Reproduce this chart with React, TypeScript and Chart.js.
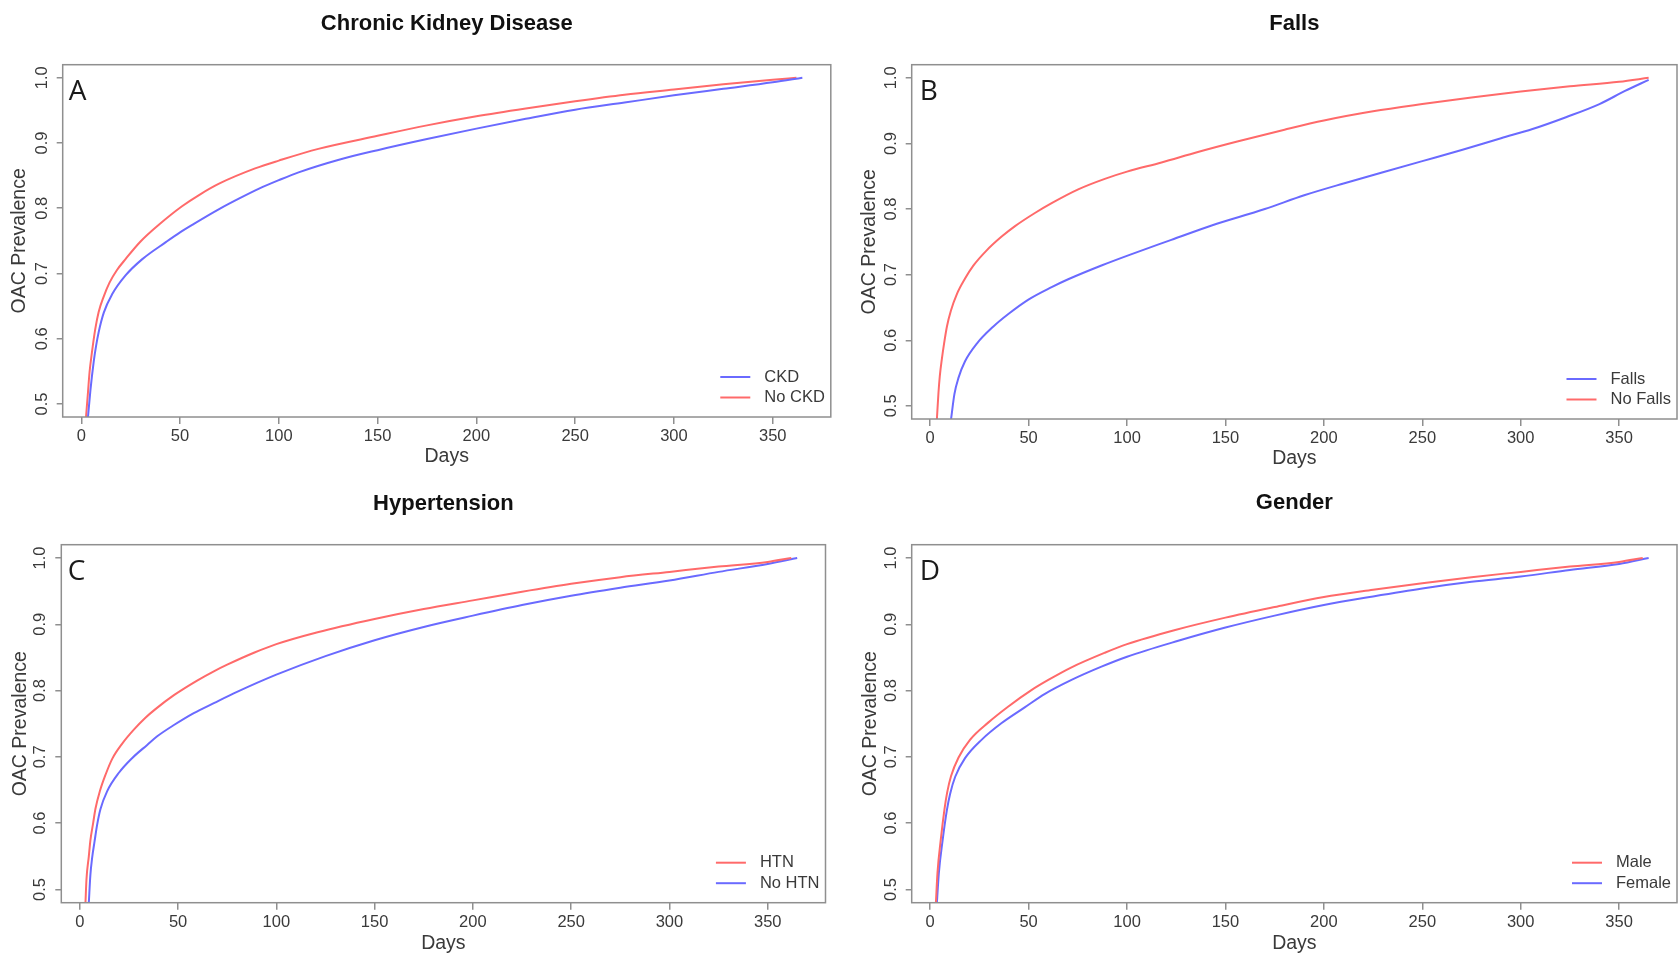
import React, { useEffect, useRef } from "react";
import { Chart, registerables } from "chart.js";

Chart.register(...registerables);

const FONT = '"Liberation Sans", Arial, Helvetica, sans-serif';
Chart.defaults.font.family = FONT;

// ---------- axes ----------
const X_TICKS = [0, 50, 100, 150, 200, 250, 300, 350];
const Y_TICKS = [0.5, 0.6, 0.7, 0.8, 0.9, 1.0];
const X_MIN = -9.4;
const X_MAX = 379.4;
const Y_MIN = 0.48;
const Y_MAX = 1.02;

// ---------- Panel A: Chronic Kidney Disease ----------
const CKD_DAYS = [3.4, 4.6, 6.3, 7.5, 8.8, 11.4, 15.6, 22.4, 30.9, 42.8, 50, 57, 70, 80, 90, 100, 110, 130, 150, 175, 200, 225, 250, 275, 300, 325, 350, 365];
const CKD_VALS = [0.48, 0.52, 0.565, 0.589, 0.61, 0.64, 0.668, 0.697, 0.722, 0.748, 0.763, 0.776, 0.799, 0.815, 0.83, 0.843, 0.855, 0.874, 0.889, 0.906, 0.922, 0.937, 0.951, 0.962, 0.973, 0.983, 0.993, 1.0];
const NO_CKD_DAYS = [2.4, 3.4, 4.2, 5.4, 7.1, 8.8, 11.4, 14.3, 18, 22.4, 30, 39.4, 51, 60, 70, 88, 100, 120, 150, 175, 200, 225, 250, 275, 300, 325, 350, 362];
const NO_CKD_VALS = [0.48, 0.518, 0.549, 0.579, 0.615, 0.641, 0.665, 0.686, 0.705, 0.722, 0.749, 0.775, 0.803, 0.821, 0.838, 0.861, 0.873, 0.891, 0.911, 0.927, 0.941, 0.953, 0.964, 0.974, 0.982, 0.99, 0.997, 1.0];

// ---------- Panel B: Falls ----------
const FALLS_DAYS = [10.6, 12.3, 14.4, 17.7, 23.7, 32.1, 39.7, 49.9, 61.7, 70.1, 87, 102, 122.5, 143, 170, 190, 210, 230, 250, 270, 290, 306, 323, 340, 353, 365];
const FALLS_VALS = [0.48, 0.518, 0.543, 0.568, 0.595, 0.621, 0.64, 0.662, 0.681, 0.693, 0.714, 0.731, 0.753, 0.775, 0.8, 0.821, 0.839, 0.856, 0.873, 0.89, 0.908, 0.922, 0.94, 0.96, 0.98, 0.997];
const NO_FALLS_DAYS = [3.4, 4.2, 4.9, 5.9, 7.1, 8.5, 10.5, 13.5, 17.7, 22, 28.7, 36.3, 43.1, 53.2, 61.7, 75.2, 88.7, 100, 117.5, 136, 156, 180, 200, 225, 250, 275, 300, 325, 350, 365];
const NO_FALLS_VALS = [0.48, 0.52, 0.546, 0.571, 0.596, 0.621, 0.645, 0.67, 0.694, 0.714, 0.737, 0.758, 0.774, 0.794, 0.809, 0.83, 0.846, 0.857, 0.871, 0.887, 0.903, 0.921, 0.935, 0.949, 0.96, 0.97, 0.979, 0.987, 0.994, 1.0];

// ---------- Panel C: Hypertension ----------
const HTN_DAYS = [2.9, 3.4, 4.6, 5.4, 6.8, 8, 10.2, 13.1, 16.5, 21.6, 27.5, 33.4, 38.5, 47.9, 59.7, 68.2, 75, 88.6, 100, 121, 150, 175, 200, 225, 250, 275, 300, 325, 350, 362];
const HTN_VALS = [0.48, 0.515, 0.55, 0.574, 0.6, 0.622, 0.648, 0.673, 0.697, 0.72, 0.741, 0.759, 0.772, 0.793, 0.815, 0.829, 0.839, 0.857, 0.87, 0.888, 0.908, 0.923, 0.936, 0.949, 0.961, 0.971, 0.979, 0.987, 0.994, 1.0];
const NO_HTN_DAYS = [4.6, 5.4, 6.3, 7.5, 8.8, 10.5, 13.9, 19.9, 26.6, 34.3, 39.4, 47.9, 58, 68.2, 80, 100, 125, 150, 175, 200, 225, 250, 275, 300, 325, 350, 365];
const NO_HTN_VALS = [0.48, 0.522, 0.548, 0.572, 0.597, 0.621, 0.648, 0.676, 0.698, 0.718, 0.731, 0.748, 0.766, 0.781, 0.798, 0.824, 0.852, 0.876, 0.896, 0.913, 0.929, 0.943, 0.955, 0.966, 0.979, 0.991, 1.0];

// ---------- Panel D: Gender ----------
const MALE_DAYS = [2.9, 3.7, 5.4, 7.3, 8.6, 10.6, 14.4, 20.3, 29.6, 39.7, 51.6, 60, 71.8, 88.7, 100, 124, 150, 175, 200, 225, 250, 275, 300, 325, 350, 362];
const MALE_VALS = [0.48, 0.525, 0.576, 0.622, 0.646, 0.671, 0.699, 0.726, 0.752, 0.776, 0.801, 0.816, 0.835, 0.857, 0.87, 0.891, 0.91, 0.926, 0.941, 0.952, 0.962, 0.971, 0.979, 0.987, 0.994, 1.0];
const FEMALE_DAYS = [3.4, 4.4, 6.3, 8.5, 10.1, 12.7, 17.7, 26.2, 36.3, 48.2, 58.3, 71.8, 87, 100, 126, 150, 175, 200, 225, 250, 275, 300, 325, 350, 365];
const FEMALE_VALS = [0.48, 0.525, 0.574, 0.62, 0.644, 0.67, 0.698, 0.726, 0.751, 0.775, 0.795, 0.816, 0.836, 0.851, 0.875, 0.895, 0.913, 0.929, 0.942, 0.954, 0.964, 0.972, 0.982, 0.991, 1.0];

const RED = "#ff6a6a";
const BLUE = "#6a6aff";

type Series = { label: string; days: number[]; vals: number[]; color: string };
type Layout = {
  qx: number; qy: number;
  left: number; top: number; right: number; bottom: number;
  titleY: number; yTitleX: number; daysY: number; letterDx: number;
};
type PanelCfg = { title: string; letter: string; series: Series[]; layout: Layout };

const PANELS: PanelCfg[] = [
  {
    title: "Chronic Kidney Disease",
    letter: "A",
    series: [
      { label: "CKD", days: CKD_DAYS, vals: CKD_VALS, color: BLUE },
      { label: "No CKD", days: NO_CKD_DAYS, vals: NO_CKD_VALS, color: RED },
    ],
    layout: { qx: 0, qy: 0, left: 62.7, top: 64.7, right: 830.8, bottom: 417, titleY: 23.5, yTitleX: 19.5, daysY: 457, letterDx: 6 },
  },
  {
    title: "Falls",
    letter: "B",
    series: [
      { label: "Falls", days: FALLS_DAYS, vals: FALLS_VALS, color: BLUE },
      { label: "No Falls", days: NO_FALLS_DAYS, vals: NO_FALLS_VALS, color: RED },
    ],
    layout: { qx: 840, qy: 0, left: 911.7, top: 64.7, right: 1677, bottom: 419, titleY: 24, yTitleX: 870, daysY: 459, letterDx: 8 },
  },
  {
    title: "Hypertension",
    letter: "C",
    series: [
      { label: "HTN", days: HTN_DAYS, vals: HTN_VALS, color: RED },
      { label: "No HTN", days: NO_HTN_DAYS, vals: NO_HTN_VALS, color: BLUE },
    ],
    layout: { qx: 0, qy: 478, left: 61.3, top: 544.7, right: 825.5, bottom: 902.7, titleY: 504, yTitleX: 20.5, daysY: 943.5, letterDx: 6.5 },
  },
  {
    title: "Gender",
    letter: "D",
    series: [
      { label: "Male", days: MALE_DAYS, vals: MALE_VALS, color: RED },
      { label: "Female", days: FEMALE_DAYS, vals: FEMALE_VALS, color: BLUE },
    ],
    layout: { qx: 840, qy: 478, left: 911.7, top: 544.7, right: 1677, bottom: 902.7, titleY: 503, yTitleX: 870.5, daysY: 943.5, letterDx: 8 },
  },
];

const QW = 840;
const QH = 478;
const TITLE_SIZE = 22;
const AXIS_TITLE_SIZE = 19.5;
const TICK_SIZE = 16.5;
const LEGEND_SIZE = 16.5;
const FRAME_COLOR = "#8f8f8f";
const TEXT_COLOR = "#3a3a3a";

function Panel({ cfg }: { cfg: PanelCfg }) {
  const ref = useRef<HTMLCanvasElement | null>(null);

  useEffect(() => {
    const canvas = ref.current;
    if (!canvas) return;
    const L = cfg.layout;
    const titleLH = TITLE_SIZE * 1.2;
    const titleTop = L.titleY - L.qy - titleLH / 2;
    const titleBottom = L.top - L.qy - titleTop - titleLH;
    const axLH = AXIS_TITLE_SIZE * 1.2;

    const deco = {
      id: "panelDeco",
      afterDraw(chart: any) {
        const ctx = chart.ctx as CanvasRenderingContext2D;
        const ca = chart.chartArea;
        ctx.save();
        // frame
        ctx.strokeStyle = FRAME_COLOR;
        ctx.lineWidth = 1.5;
        ctx.strokeRect(ca.left, ca.top, ca.right - ca.left, ca.bottom - ca.top);
        // panel letter
        ctx.fillStyle = "#1a1a1a";
        ctx.font = '28px "Open Sans", "Liberation Sans", sans-serif';
        ctx.textBaseline = "alphabetic";
        ctx.textAlign = "left";
        ctx.fillText(cfg.letter, ca.left + L.letterDx, ca.top + 35);
        // legend
        ctx.font = `${LEGEND_SIZE}px ${FONT}`;
        const maxW = Math.max(...cfg.series.map((s) => ctx.measureText(s.label).width));
        const textX = ca.right - 6 - maxW;
        cfg.series.forEach((s, i) => {
          const y = ca.bottom - 40 + i * 20.5;
          ctx.strokeStyle = s.color;
          ctx.lineWidth = 2;
          ctx.beginPath();
          ctx.moveTo(textX - 44, y);
          ctx.lineTo(textX - 14, y);
          ctx.stroke();
          ctx.fillStyle = TEXT_COLOR;
          ctx.textBaseline = "middle";
          ctx.fillText(s.label, textX, y);
        });
        ctx.restore();
      },
    };

    const chart = new Chart(canvas, {
      type: "line",
      data: {
        datasets: cfg.series.map((s) => ({
          label: s.label,
          data: s.days.map((d, i) => ({ x: d, y: s.vals[i] })),
          borderColor: s.color,
          backgroundColor: s.color,
          borderWidth: 2,
          pointRadius: 0,
          fill: false,
          cubicInterpolationMode: "monotone" as const,
        })),
      },
      options: {
        responsive: false,
        animation: false,
        devicePixelRatio: 1,
        layout: { padding: { left: 0, top: 0, right: QW - (L.right - L.qx), bottom: 0 } },
        plugins: {
          legend: { display: false },
          tooltip: { enabled: false },
          title: {
            display: true,
            text: cfg.title,
            fullSize: false,
            color: "#111111",
            font: { size: TITLE_SIZE, weight: "bold", family: FONT },
            padding: { top: titleTop, bottom: titleBottom },
          },
        },
        scales: {
          x: {
            type: "linear",
            min: X_MIN,
            max: X_MAX,
            afterBuildTicks: (s: any) => {
              s.ticks = X_TICKS.map((v) => ({ value: v }));
            },
            afterFit: (s: any) => {
              s.height = QH - (L.bottom - L.qy);
            },
            grid: { display: true, drawOnChartArea: false, drawTicks: true, tickLength: 7, color: FRAME_COLOR, lineWidth: 1.5 },
            border: { display: false },
            ticks: {
              autoSkip: false,
              minRotation: 0,
              maxRotation: 0,
              padding: 3,
              color: TEXT_COLOR,
              font: { size: TICK_SIZE },
              callback: (v: any) => String(v),
            },
            title: {
              display: true,
              text: "Days",
              color: TEXT_COLOR,
              font: { size: AXIS_TITLE_SIZE },
              padding: { top: 0, bottom: QH - (L.daysY - L.qy) - axLH / 2 },
            },
          },
          y: {
            type: "linear",
            min: Y_MIN,
            max: Y_MAX,
            afterBuildTicks: (s: any) => {
              s.ticks = Y_TICKS.map((v) => ({ value: v }));
            },
            afterFit: (s: any) => {
              s.width = L.left - L.qx;
            },
            grid: { display: true, drawOnChartArea: false, drawTicks: true, tickLength: 6, color: FRAME_COLOR, lineWidth: 1.5 },
            border: { display: false },
            ticks: {
              minRotation: 90,
              maxRotation: 90,
              crossAlign: "center",
              padding: 3,
              color: TEXT_COLOR,
              font: { size: TICK_SIZE },
              callback: (v: any) => Number(v).toFixed(1),
            },
            title: {
              display: true,
              text: "OAC Prevalence",
              color: TEXT_COLOR,
              font: { size: AXIS_TITLE_SIZE },
              padding: { top: L.yTitleX - L.qx - axLH / 2, bottom: 0 },
            },
          },
        },
      } as any,
      plugins: [deco],
    });
    return () => chart.destroy();
  }, [cfg]);

  const L = cfg.layout;
  return (
    <canvas
      ref={ref}
      width={QW}
      height={QH}
      style={{ position: "absolute", left: L.qx, top: L.qy, width: QW, height: QH, display: "block" }}
    />
  );
}

export default function App() {
  return (
    <div style={{ position: "absolute", left: 0, top: 0, width: 1680, height: 956, background: "#ffffff", overflow: "hidden" }}>
      {PANELS.map((p) => (
        <Panel key={p.letter} cfg={p} />
      ))}
    </div>
  );
}
